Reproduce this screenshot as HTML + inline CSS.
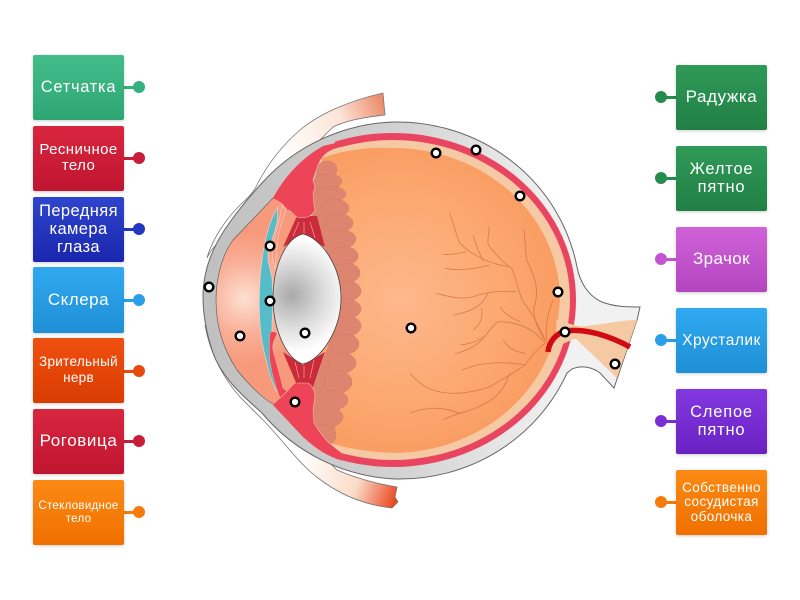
<!DOCTYPE html>
<html><head><meta charset="utf-8"><style>
html,body{margin:0;padding:0;background:#fff}
#p{position:relative;width:800px;height:600px;overflow:hidden;background:#fff;font-family:"Liberation Sans",sans-serif}
.b{position:absolute;width:91px;height:65px;border-radius:2px;color:#fff;display:flex;align-items:center;justify-content:center;text-align:center;box-shadow:0 1px 3px rgba(0,0,0,.2);white-space:nowrap;box-sizing:border-box}
.l{position:absolute;height:3px}
.d{position:absolute;width:12px;height:12px;border-radius:50%}
svg{position:absolute;left:0;top:0}
</style></head><body><div id="p">
<svg width="800" height="600" viewBox="0 0 800 600">
<defs>
<linearGradient id="lid1" gradientUnits="userSpaceOnUse" x1="280" y1="150" x2="385" y2="105"><stop offset="0" stop-color="#fff"/><stop offset=".6" stop-color="#fbe4d8"/><stop offset="1" stop-color="#ec8a68"/></linearGradient>
<linearGradient id="lid2" gradientUnits="userSpaceOnUse" x1="300" y1="460" x2="397" y2="495"><stop offset="0" stop-color="#fff"/><stop offset=".6" stop-color="#fbdcc8"/><stop offset="1" stop-color="#ea4a25"/></linearGradient>
<linearGradient id="scl" gradientUnits="userSpaceOnUse" x1="200" y1="0" x2="560" y2="0"><stop offset="0" stop-color="#bfbfbf"/><stop offset=".55" stop-color="#d2d2d2"/><stop offset="1" stop-color="#f1f1f1"/></linearGradient>
<radialGradient id="vit" gradientUnits="userSpaceOnUse" cx="400" cy="300" r="165"><stop offset="0" stop-color="#fdb88c"/><stop offset=".6" stop-color="#fca972"/><stop offset="1" stop-color="#f99c60"/></radialGradient>
<radialGradient id="lens" gradientUnits="userSpaceOnUse" cx="292" cy="295" r="58"><stop offset="0" stop-color="#a9a9a9"/><stop offset=".55" stop-color="#dcdcdc"/><stop offset="1" stop-color="#fff"/></radialGradient>
<radialGradient id="ant" gradientUnits="userSpaceOnUse" cx="245" cy="298" r="65"><stop offset="0" stop-color="#fde0d2"/><stop offset=".55" stop-color="#f9b098"/><stop offset="1" stop-color="#f79a7c"/></radialGradient>
<clipPath id="cr"><rect x="335" y="100" width="300" height="400"/></clipPath>
</defs>
<!-- eyelids -->
<path d="M383 93L385 115C365 117 345 121 333 127L290 170L262 200C240 225 215 240 207 258C212 240 225 220 240 205C248 198 254 192 258 183C270 160 285 143 300 130C320 113 352 100 383 93Z" fill="url(#lid1)" stroke="#777" stroke-width=".8"/>
<path d="M397 487L395 497L398 502L392 508C365 505 340 495 318 478C300 465 280 437 263 420L240 397C225 380 210 355 205 325C215 350 235 380 262 395L337 470C355 478 378 484 397 487Z" fill="url(#lid2)" stroke="#777" stroke-width=".8"/>
<!-- sclera -->
<path d="M262 183A183 178 0 0 1 395 122A183 178 0 0 1 577 267C580 282 588 296 602 302C615 307 628 307 640 307L637 320L614 388L600 373C592 367 582 365 572 369L567 373A183 178 0 0 1 395 479A183 178 0 0 1 262 413C245 398 222 378 213 353C207 335 203 315 203 297C203 270 213 245 230 222C240 208 250 196 262 183Z" fill="url(#scl)" stroke="#666" stroke-width="1"/>
<!-- chamber backing -->
<path d="M273 198L233 240C222 255 216 278 216 300C216 328 224 350 237 370C250 386 262 398 273 404L300 400V200Z" fill="url(#ant)" stroke="#555" stroke-width=".6"/>
<!-- choroid, retina, vitreous -->
<g clip-path="url(#cr)">
<ellipse cx="393" cy="300" rx="183" ry="167" fill="#ea4560"/>
<ellipse cx="393" cy="300" rx="177" ry="160" fill="#f6c9a5"/>
</g>
<path d="M318 165L322 152L340 147L345 165ZM318 430L330 444L342 453.5L345 435Z" fill="#f6c9a5"/>
<path d="M560 300A167 152 0 0 0 395 148Q355 146 322 158L320 440Q355 452 395 453A167 152 0 0 0 558 320Z" fill="url(#vit)"/>
<!-- nerve head gap -->
<path d="M556 320L578 326L592 327L592 338L574 339L558 346Z" fill="#f6c9a5"/>
<!-- scallops -->
<path d="M318 165L338 178L354 290L354 320L338 420L330 442L322 445L312 420L312 390L345 298L312 215L312 190Z" fill="#de8570"/>
<g fill="#de8570" stroke="#d37b68" stroke-width=".5">
<ellipse cx="327" cy="169" rx="10" ry="8"/><ellipse cx="328" cy="181" rx="14" ry="7"/><ellipse cx="332" cy="194" rx="14" ry="7.5"/><ellipse cx="335" cy="208" rx="14" ry="8.5"/><ellipse cx="339" cy="223" rx="14" ry="9"/><ellipse cx="342" cy="239" rx="14" ry="9"/><ellipse cx="344" cy="256" rx="14" ry="9.5"/><ellipse cx="346" cy="273" rx="14" ry="10"/><ellipse cx="347" cy="291" rx="14" ry="10"/><ellipse cx="347" cy="309" rx="14" ry="9.5"/><ellipse cx="347" cy="326" rx="14" ry="10"/><ellipse cx="345" cy="344" rx="14" ry="10"/><ellipse cx="342" cy="363" rx="14" ry="10"/><ellipse cx="338" cy="382" rx="14" ry="11"/><ellipse cx="334" cy="400" rx="14" ry="9.5"/><ellipse cx="329" cy="417" rx="14" ry="9.5"/><ellipse cx="323" cy="435" rx="13" ry="11"/>
</g>
<!-- vessels -->
<g transform="translate(410 120) scale(.3333)" fill="none" stroke="#cf6a40" stroke-width="2.4" opacity=".75">
<path d="M410 670C395 640 380 600 350 560C325 530 325 490 305 445C280 430 255 400 235 375C230 350 240 335 237 320"/>
<path d="M300 440C250 435 190 410 150 370C135 340 130 300 118 280"/>
<path d="M240 435C200 445 150 455 105 445"/>
<path d="M170 395C150 400 125 405 100 403"/>
<path d="M220 425C210 400 195 375 190 345"/>
<path d="M405 660C385 630 370 600 372 565C385 520 385 490 350 420C345 380 345 350 342 330"/>
<path d="M320 515C280 512 240 515 205 525C170 540 130 535 80 520"/>
<path d="M235 518C220 545 210 570 130 585"/>
<path d="M215 565C218 590 215 610 190 630"/>
<path d="M405 668C370 625 320 605 265 605C240 620 230 655 190 680C170 690 150 698 135 702"/>
<path d="M330 605C310 595 290 590 270 560"/>
<path d="M280 660C290 680 310 695 345 700"/>
<path d="M220 650C200 665 175 672 150 675"/>
<path d="M405 670C385 685 370 700 345 735C310 728 260 725 200 735C185 740 170 745 155 750"/>
<path d="M345 735C320 755 280 775 240 800C200 815 160 820 130 820C90 820 40 810 0 760"/>
<path d="M300 760C280 810 260 850 150 880C130 885 115 892 100 900"/>
<path d="M150 880C110 865 60 855 0 880"/>
<path d="M410 660C405 620 415 570 430 540"/>
</g>
<!-- teal -->
<path d="M278 207C268 222 262 250 260 280C258 310 260 340 267 363C270 378 275 390 281 397L281 392L272 370L272 345L272 325L273 300L272 278L268 260L268 247L272 240L277 223Z" fill="#55bcc8" stroke="#f5d9d0" stroke-width=".6"/>
<!-- fibres -->
<path d="M297 216L317 216L325 247L303 236L283 247Z" fill="#cb2b3b"/>
<path d="M297 385L313 387L325 352L303 365L283 352Z" fill="#cb2b3b"/>
<g stroke="#f5b2a2" stroke-width=".6"><path d="M299 222L293 236M304 222V234M310 222L315 238M299 378L295 362M304 378V366M310 378L314 360"/></g>
<!-- ciliary top -->
<path d="M273 198C280 185 295 162 323 146L340 142L340 147C328 150 321 156 318 165L313 180L315 187L313 193L314 205L315 210C312 217 305 219 297 217C292 214 291 210 288 210L282 203Z" fill="#ee4458"/>
<path d="M318 165L313 180L315 187L313 193L314 205L315 210C312 217 305 219 297 217C292 214 291 210 288 210" fill="none" stroke="#f6b9a9" stroke-width=".6"/>
<path d="M286 211C279 225 277 242 275 268C272 262 272 250 273 245C276 230 280 220 282 205Z" fill="#f79c80" stroke="#f9d5c8" stroke-width=".6"/>
<!-- ciliary bottom -->
<path d="M273 405L287 392C291 388 294 383 297 383L308 383C313 386 315 392 315 397L313 410L314 423C319 432 324 438 330 444L342 453.5L342 460.5C328 457 315 448 303 437Z" fill="#ee4458"/>
<path d="M297 383L308 383C313 386 315 392 315 397L313 410L314 423C319 432 324 438 330 444" fill="none" stroke="#f6b9a9" stroke-width=".6"/>
<path d="M270 333C271 331 276 331 277 334C274 340 272 345 273 350C276 362 280 375 283 388L287 391L280 398C276 388 272 375 270 362C269 352 269 342 270 333Z" fill="#ee4458" stroke="#f6b9a9" stroke-width=".5"/>
<!-- lens -->
<path d="M303 234C285 238 273 268 273 298C273 330 287 360 303 364C321 360 341 330 341 298C341 266 321 238 303 234Z" fill="url(#lens)" stroke="#444" stroke-width=".8"/>
<!-- optic nerve -->
<path d="M574 327C595 326 620 320 637 320L617 378L575 338Z" fill="#f6c9a5"/>
<path d="M548 352C549 342 556 333 566 331C585 328 610 336 630 347" fill="none" stroke="#d10a14" stroke-width="5.5"/>
<!-- dots -->
<g fill="#fff" stroke="#000" stroke-width="2.4">
<circle cx="436" cy="153" r="4.3"/><circle cx="476" cy="150" r="4.3"/><circle cx="520" cy="196" r="4.3"/><circle cx="558" cy="292" r="4.3"/><circle cx="565" cy="332" r="4.3"/><circle cx="615" cy="364" r="4.3"/><circle cx="411" cy="328" r="4.3"/><circle cx="305" cy="333" r="4.3"/><circle cx="295" cy="402" r="4.3"/><circle cx="270" cy="246" r="4.3"/><circle cx="270" cy="301" r="4.3"/><circle cx="240" cy="336" r="4.3"/><circle cx="209" cy="287" r="4.3"/>
</g>
</svg>

<div class="l" style="left:124px;top:86px;width:12px;background:#37b07f"></div><div class="d" style="left:133px;top:81px;background:#37b07f"></div>
<div class="l" style="left:124px;top:157px;width:12px;background:#c91c38"></div><div class="d" style="left:133px;top:152px;background:#c91c38"></div>
<div class="l" style="left:124px;top:228px;width:12px;background:#2338c0"></div><div class="d" style="left:133px;top:223px;background:#2338c0"></div>
<div class="l" style="left:124px;top:299px;width:12px;background:#2a9fe8"></div><div class="d" style="left:133px;top:294px;background:#2a9fe8"></div>
<div class="l" style="left:124px;top:370px;width:12px;background:#e8490f"></div><div class="d" style="left:133px;top:365px;background:#e8490f"></div>
<div class="l" style="left:124px;top:440px;width:12px;background:#c91c38"></div><div class="d" style="left:133px;top:435px;background:#c91c38"></div>
<div class="l" style="left:124px;top:511px;width:12px;background:#f57c0c"></div><div class="d" style="left:133px;top:506px;background:#f57c0c"></div>

<div class="b" style="left:33px;top:55px;background:linear-gradient(#42bd8a,#2ea674);font-size:16.5px;letter-spacing:.7px">Сетчатка</div>
<div class="b" style="left:33px;top:126px;background:linear-gradient(#d9263f,#bf1530);font-size:15px;letter-spacing:.4px;line-height:16px;padding-bottom:1px">Ресничное<br>тело</div>
<div class="b" style="left:33px;top:197px;background:linear-gradient(#2f45cd,#1a26ae);font-size:16.5px;letter-spacing:.4px;line-height:18px;padding-bottom:2px">Передняя<br>камера<br>глаза</div>
<div class="b" style="left:33px;top:267px;height:66px;background:linear-gradient(#30a9f0,#1f8fd6);font-size:17px;letter-spacing:.5px">Склера</div>
<div class="b" style="left:33px;top:338px;background:linear-gradient(#f0500f,#d93c02);font-size:13.5px;letter-spacing:.3px;line-height:15.5px;padding-bottom:2px">Зрительный<br>нерв</div>
<div class="b" style="left:33px;top:409px;background:linear-gradient(#d9263f,#bf1530);font-size:17px;letter-spacing:.6px;padding-bottom:2px">Роговица</div>
<div class="b" style="left:33px;top:480px;background:linear-gradient(#fb8a14,#f07000);font-size:11.5px;letter-spacing:.3px;line-height:12.5px">Стекловидное<br>тело</div>

<div class="l" style="left:664px;top:96px;width:12px;background:#258c4e"></div><div class="d" style="left:655px;top:91px;background:#258c4e"></div>
<div class="l" style="left:664px;top:177px;width:12px;background:#258c4e"></div><div class="d" style="left:655px;top:172px;background:#258c4e"></div>
<div class="l" style="left:664px;top:258px;width:12px;background:#c455cf"></div><div class="d" style="left:655px;top:253px;background:#c455cf"></div>
<div class="l" style="left:664px;top:339px;width:12px;background:#2a9fe8"></div><div class="d" style="left:655px;top:334px;background:#2a9fe8"></div>
<div class="l" style="left:664px;top:420px;width:12px;background:#7a2fd6"></div><div class="d" style="left:655px;top:415px;background:#7a2fd6"></div>
<div class="l" style="left:664px;top:501px;width:12px;background:#f57c0c"></div><div class="d" style="left:655px;top:496px;background:#f57c0c"></div>

<div class="b" style="left:676px;top:65px;background:linear-gradient(#2f9a58,#217f45);font-size:17px;letter-spacing:.6px;padding-bottom:2px">Радужка</div>
<div class="b" style="left:676px;top:146px;background:linear-gradient(#2f9a58,#217f45);font-size:16.5px;letter-spacing:.8px;line-height:18px;padding-bottom:2px">Желтое<br>пятно</div>
<div class="b" style="left:676px;top:227px;background:linear-gradient(#cf62d8,#b445c0);font-size:17px;letter-spacing:.4px;padding-bottom:2px">Зрачок</div>
<div class="b" style="left:676px;top:308px;background:linear-gradient(#30a9f0,#1f8fd6);font-size:15.5px;letter-spacing:.5px">Хрусталик</div>
<div class="b" style="left:676px;top:389px;background:linear-gradient(#8238e0,#6a22c2);font-size:16.5px;letter-spacing:.8px;line-height:18px;padding-bottom:2px">Слепое<br>пятно</div>
<div class="b" style="left:676px;top:470px;background:linear-gradient(#fb8a14,#f07000);font-size:13.5px;letter-spacing:.4px;line-height:14.5px">Собственно<br>сосудистая<br>оболочка</div>
</div></body></html>
